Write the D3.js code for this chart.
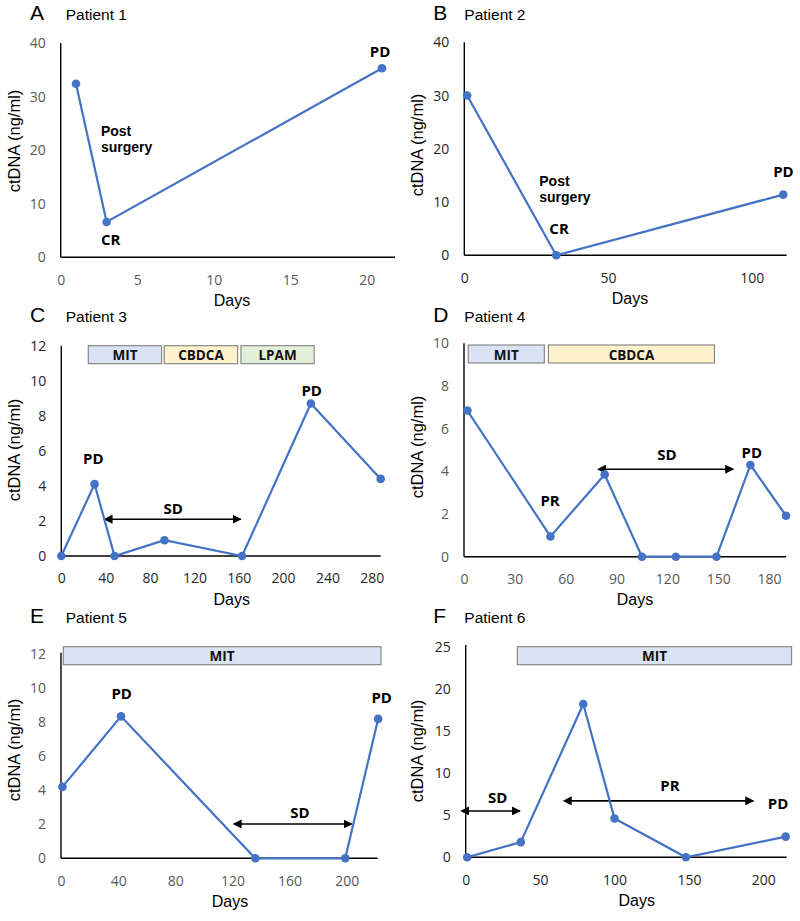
<!DOCTYPE html>
<html>
<head>
<meta charset="utf-8">
<script src="https://cdn.jsdelivr.net/npm/d3@7"></script>
<style>
  html, body { margin: 0; padding: 0; background: #fff; }
  svg { display: block; }
</style>
</head>
<body>
<svg id="chart" width="800" height="921"></svg>
<script>
// ---------------- DATA ----------------
const p1Days = [1, 3, 21];
const p1Vals = [32.4, 6.6, 35.3];
const p2Days = [1, 32, 111];
const p2Vals = [30, 0, 11.4];
const p3Days = [0, 30, 48, 93, 163, 225, 288];
const p3Vals = [0, 4.1, 0, 0.9, 0, 8.7, 4.4];
const p4Days = [2, 51, 83, 105, 125, 149, 169, 190];
const p4Vals = [6.85, 0.95, 3.85, 0, 0, 0, 4.3, 1.92];
const p5Days = [1, 42, 136, 199, 222];
const p5Vals = [4.2, 8.35, 0, 0, 8.2];
const p6Days = [1, 37, 79, 100, 148, 215];
const p6Vals = [0, 1.8, 18.2, 4.6, 0, 2.45];

// tick labels
const p1XTicks = [0, 5, 10, 15, 20];
const p1YTicks = [0, 10, 20, 30, 40];
const p2XTicks = [0, 50, 100];
const p2YTicks = [0, 10, 20, 30, 40];
const p3XTicks = [0, 40, 80, 120, 160, 200, 240, 280];
const p3YTicks = [0, 2, 4, 6, 8, 10, 12];
const p4XTicks = [0, 30, 60, 90, 120, 150, 180];
const p4YTicks = [0, 2, 4, 6, 8, 10];
const p5XTicks = [0, 40, 80, 120, 160, 200];
const p5YTicks = [0, 2, 4, 6, 8, 10, 12];
const p6XTicks = [0, 50, 100, 150, 200];
const p6YTicks = [0, 5, 10, 15, 20, 25];

// treatment periods (days)
const p3TreatNames = ["MIT", "CBDCA", "LPAM"];
const p3TreatStart = [24.3, 92.8, 162];
const p3TreatEnd = [90.5, 159, 228];
const p4TreatNames = ["MIT", "CBDCA"];
const p4TreatStart = [2.5, 49.8];
const p4TreatEnd = [47.4, 147.8];
const p5TreatNames = ["MIT"];
const p5TreatStart = [1.6];
const p5TreatEnd = [224];
const p6TreatNames = ["MIT"];
const p6TreatStart = [34.7];
const p6TreatEnd = [219];

// response periods (arrows): start day, end day, level
const p3ArrowStart = [45.4];
const p3ArrowEnd = [161.8];
const p3ArrowLevel = [2.1];
const p4ArrowStart = [83.2];
const p4ArrowEnd = [158.9];
const p4ArrowLevel = [4.1];
const p5ArrowStart = [125.8];
const p5ArrowEnd = [203.5];
const p5ArrowLevel = [2.02];
const p6ArrowStart = [1.8, 70.6];
const p6ArrowEnd = [36.5, 193.3];
const p6ArrowLevel = [5.5, 6.7];

// annotation texts with anchor (day, value)
const p1Notes = [["Post\nsurgery", 2.63, 23.5, "start"], ["CR", 2.63, 3.4, "start"], ["PD", 20.2, 38.6, "start"]];
const p2Notes = [["Post\nsurgery", 26.1, 13.95, "start"], ["CR", 29.6, 5.2, "start"], ["PD", 107.5, 15.8, "start"]];
const p3Notes = [["PD", 28.9, 5.58, "middle"], ["SD", 101, 2.72, "middle"], ["PD", 225.8, 9.47, "middle"]];
const p4Notes = [["PR", 50.8, 2.66, "middle"], ["SD", 119.7, 4.8, "middle"], ["PD", 169.8, 4.92, "middle"]];
const p5Notes = [["PD", 42.5, 9.7, "middle"], ["SD", 167.3, 2.74, "middle"], ["PD", 224.5, 9.5, "middle"]];
const p6Notes = [["SD", 21.5, 7.2, "middle"], ["PR", 137.3, 8.58, "middle"], ["PD", 209.9, 6.4, "middle"]];

// ---------------- LAYOUT ----------------
const treatColors = { MIT: "#dae3f3", CBDCA: "#fff2cc", LPAM: "#e2f0d9" };
const LINE = "#4472c4";

const panels = [
  { letter: "A", title: "Patient 1", days: p1Days, vals: p1Vals, xt: p1XTicks, yt: p1YTicks,
    x0: 60.7, x1: 395, xMax: 21.85, y0: 257.3, yTop: 43, yMax: 40, tickColor: "#595959",
    letterX: 30, titleX: 65.7, titleY: 20, daysX: 232, yTitleY: 141, notes: p1Notes },
  { letter: "B", title: "Patient 2", days: p2Days, vals: p2Vals, xt: p2XTicks, yt: p2YTicks,
    x0: 464.3, x1: 786.7, xMax: 112.2, y0: 255.3, yTop: 42.3, yMax: 40, tickColor: "#262626",
    letterX: 433.3, titleX: 464.3, titleY: 20, daysX: 630, yTitleY: 145, notes: p2Notes },
  { letter: "C", title: "Patient 3", days: p3Days, vals: p3Vals, xt: p3XTicks, yt: p3YTicks,
    x0: 61.3, x1: 380.7, xMax: 288, y0: 556, yTop: 345.7, yMax: 12, tickColor: "#262626",
    letterX: 30, titleX: 65.7, titleY: 322, daysX: 231.7, yTitleY: 450, notes: p3Notes,
    tn: p3TreatNames, ts: p3TreatStart, te: p3TreatEnd, barTop: 345.7,
    as: p3ArrowStart, ae: p3ArrowEnd, al: p3ArrowLevel },
  { letter: "D", title: "Patient 4", days: p4Days, vals: p4Vals, xt: p4XTicks, yt: p4YTicks,
    x0: 464, x1: 786, xMax: 190, y0: 556.7, yTop: 343.3, yMax: 10, tickColor: "#595959",
    letterX: 433.3, titleX: 464.3, titleY: 322, daysX: 635, yTitleY: 447, notes: p4Notes,
    tn: p4TreatNames, ts: p4TreatStart, te: p4TreatEnd, barTop: 345,
    as: p4ArrowStart, ae: p4ArrowEnd, al: p4ArrowLevel },
  { letter: "E", title: "Patient 5", days: p5Days, vals: p5Vals, xt: p5XTicks, yt: p5YTicks,
    x0: 61, x1: 377.7, xMax: 221.7, y0: 858.3, yTop: 654.3, yMax: 12, tickColor: "#595959",
    letterX: 30, titleX: 65.7, titleY: 623, daysX: 230, yTitleY: 750, notes: p5Notes,
    tn: p5TreatNames, ts: p5TreatStart, te: p5TreatEnd, barTop: 646.7, axisTop: 652.7,
    as: p5ArrowStart, ae: p5ArrowEnd, al: p5ArrowLevel },
  { letter: "F", title: "Patient 6", days: p6Days, vals: p6Vals, xt: p6XTicks, yt: p6YTicks,
    x0: 465.7, x1: 786.7, xMax: 215.7, y0: 857.3, yTop: 646.7, yMax: 25, tickColor: "#262626",
    letterX: 433.3, titleX: 464.3, titleY: 623, daysX: 636.7, yTitleY: 751, notes: p6Notes,
    tn: p6TreatNames, ts: p6TreatStart, te: p6TreatEnd, barTop: 646.7, axisTop: 645,
    as: p6ArrowStart, ae: p6ArrowEnd, al: p6ArrowLevel }
];

const svg = d3.select("#chart");
const defs = svg.append("defs");
["start", "end"].forEach(k => {
  defs.append("marker")
    .attr("id", "arrow-" + k)
    .attr("viewBox", "0 0 10 10")
    .attr("refX", k === "end" ? 9 : 1).attr("refY", 5)
    .attr("markerWidth", 9).attr("markerHeight", 9)
    .attr("markerUnits", "userSpaceOnUse")
    .attr("orient", "auto-start-reverse")
    .append("path").attr("d", "M0,0 L10,5 L0,10 Z").attr("fill", "#000");
});

const TICKFONT = "'Open Sans', 'DejaVu Sans', sans-serif";
const SANS = "'Liberation Sans', Arial, sans-serif";

panels.forEach(p => {
  const g = svg.append("g");
  const x = d3.scaleLinear().domain([0, p.xMax]).range([p.x0, p.x1]);
  const y = d3.scaleLinear().domain([0, p.yMax]).range([p.y0, p.yTop]);

  // panel letter & title
  g.append("text").attr("x", p.letterX).attr("y", p.titleY - 0.5)
    .attr("font-family", SANS).attr("font-size", 21).attr("fill", "#000").text(p.letter);
  g.append("text").attr("x", p.titleX).attr("y", p.titleY)
    .attr("font-family", SANS).attr("font-size", 15.5).attr("fill", "#000").text(p.title);

  // axes
  const yAxis = d3.axisLeft(y).tickValues(p.yt).tickSize(0).tickPadding(15).tickFormat(d3.format("d"));
  const xAxis = d3.axisBottom(x).tickValues(p.xt).tickSize(0).tickPadding(17.5).tickFormat(d3.format("d"));
  const gy = g.append("g").attr("transform", `translate(${p.x0},0)`).call(yAxis);
  const gx = g.append("g").attr("transform", `translate(0,${p.y0})`).call(xAxis);
  [gx, gy].forEach(ax => {
    ax.select(".domain").remove();
    ax.selectAll("text").attr("font-family", TICKFONT).attr("font-size", 14).attr("fill", p.tickColor);
  });
  const axTop = p.axisTop !== undefined ? p.axisTop : p.yTop;
  g.append("line").attr("x1", p.x0).attr("x2", p.x0).attr("y1", p.y0).attr("y2", axTop)
    .attr("stroke", "#000").attr("stroke-width", 1.4);
  g.append("line").attr("x1", p.x0).attr("x2", p.x1).attr("y1", p.y0).attr("y2", p.y0)
    .attr("stroke", "#000").attr("stroke-width", 1.4);

  // axis titles
  g.append("text")
    .attr("transform", `translate(${p.letterX - 16},${p.yTitleY}) rotate(-90)`)
    .attr("text-anchor", "middle").attr("dominant-baseline", "central")
    .attr("font-family", SANS).attr("font-size", 16.5).attr("fill", "#000").text("ctDNA (ng/ml)");
  g.append("text").attr("x", p.daysX).attr("y", p.y0 + 43)
    .attr("text-anchor", "middle").attr("dominant-baseline", "central")
    .attr("font-family", SANS).attr("font-size", 16).attr("fill", "#000").text("Days");

  // treatment bars
  if (p.tn) {
    p.tn.forEach((name, i) => {
      const bx = x(p.ts[i]), bw = x(p.te[i]) - x(p.ts[i]);
      g.append("rect").attr("x", bx).attr("y", p.barTop).attr("width", bw).attr("height", 18)
        .attr("fill", treatColors[name]).attr("stroke", "#808080").attr("stroke-width", 1.1);
      g.append("text").attr("x", bx + bw / 2).attr("y", p.barTop + 9.5)
        .attr("text-anchor", "middle").attr("dominant-baseline", "central")
        .attr("font-family", TICKFONT).attr("font-weight", 700).attr("font-size", 13.5)
        .attr("fill", "#111").text(name);
    });
  }

  // arrows
  if (p.as) {
    p.as.forEach((s, i) => {
      g.append("line").attr("x1", x(s)).attr("x2", x(p.ae[i]))
        .attr("y1", y(p.al[i])).attr("y2", y(p.al[i]))
        .attr("stroke", "#000").attr("stroke-width", 1.6)
        .attr("marker-start", "url(#arrow-start)").attr("marker-end", "url(#arrow-end)");
    });
  }

  // line + points
  const pts = p.days.map((d, i) => [d, p.vals[i]]);
  g.append("path").datum(pts)
    .attr("d", d3.line().x(d => x(d[0])).y(d => y(d[1])))
    .attr("fill", "none").attr("stroke", LINE).attr("stroke-width", 2.2);
  g.selectAll("circle.pt").data(pts).enter().append("circle")
    .attr("cx", d => x(d[0])).attr("cy", d => y(d[1])).attr("r", 4.3).attr("fill", LINE);

  // annotations (multi-line notes drawn as separate text lines in a compact font)
  p.notes.forEach(n => {
    const lines = n[0].split("\n");
    const multi = lines.length > 1;
    lines.forEach((l, k) => {
      g.append("text").attr("x", x(n[1])).attr("y", y(n[2]) + k * 16)
        .attr("text-anchor", n[3]).attr("dominant-baseline", "central")
        .attr("font-family", multi ? SANS : TICKFONT).attr("font-weight", 700)
        .attr("font-size", multi ? 14 : 15)
        .attr("fill", "#000").text(l);
    });
  });
});
</script>
</body>
</html>
